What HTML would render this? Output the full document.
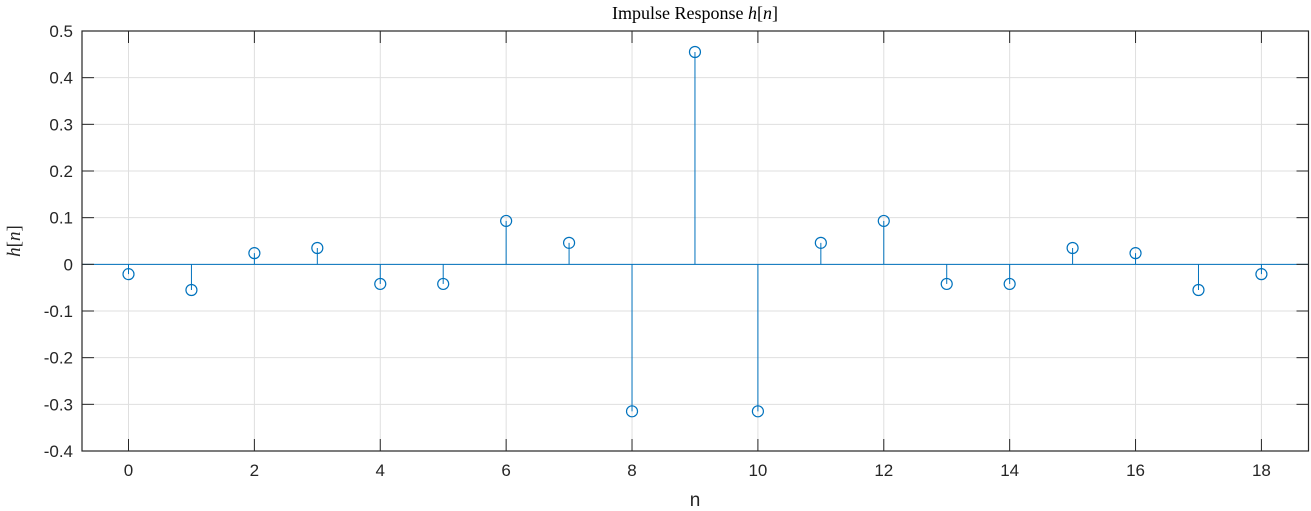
<!DOCTYPE html>
<html><head><meta charset="utf-8"><style>
body{margin:0;background:#fff;}
svg{display:block;font-family:"Liberation Sans",Arial,sans-serif;}
</style></head><body>
<svg id="chart" width="1311" height="511">
<g id="grid"></g>
<g id="marks"></g>
<g id="axes"></g>
<text x="695" y="19" text-anchor="middle" font-family="Liberation Serif, serif" font-size="18" fill="#000">Impulse Response <tspan font-style="italic">h</tspan>[<tspan font-style="italic">n</tspan>]</text>
<text x="695" y="506" text-anchor="middle" font-size="19" fill="#262626">n</text>
<text transform="translate(20,241) rotate(-90)" text-anchor="middle" font-family="Liberation Serif, serif" font-size="19" fill="#262626"><tspan font-style="italic">h</tspan>[<tspan font-style="italic">n</tspan>]</text>
</svg>
<script>
const nValues=[0,1,2,3,4,5,6,7,8,9,10,11,12,13,14,15,16,17,18];
const hValues=[-0.021,-0.055,0.024,0.035,-0.042,-0.042,0.093,0.046,-0.315,0.455,-0.315,0.046,0.093,-0.042,-0.042,0.035,0.024,-0.055,-0.021];
const xTicks=[0,2,4,6,8,10,12,14,16,18];
const yTicks=[-0.4,-0.3,-0.2,-0.1,0,0.1,0.2,0.3,0.4,0.5];
const yTickLabels=["-0.4","-0.3","-0.2","-0.1","0","0.1","0.2","0.3","0.4","0.5"];
const L=82,R=1308.5,T=31,B=451;
const X0=128.5,XS=62.94;
function sx(v){return X0+v*XS;}
function sy(v){return T+(0.5-v)/0.9*(B-T);}
const NS="http://www.w3.org/2000/svg";
function mk(p,tag,a){const e=document.createElementNS(NS,tag);for(const k in a)e.setAttribute(k,a[k]);p.appendChild(e);return e;}
const grid=document.getElementById('grid'),marks=document.getElementById('marks'),axes=document.getElementById('axes');
xTicks.forEach(t=>{
 const g=mk(grid,'line',{x1:sx(t),x2:sx(t),y1:T,y2:B,stroke:'#dfdfdf','stroke-width':1});
 
 
 mk(axes,'line',{x1:sx(t),x2:sx(t),y1:B,y2:B-12,stroke:'#262626','stroke-width':1});
 mk(axes,'line',{x1:sx(t),x2:sx(t),y1:T,y2:T+12,stroke:'#262626','stroke-width':1});
 const tx=mk(axes,'text',{x:sx(t),y:B+25,'text-anchor':'middle','font-size':17,fill:'#262626'});
 tx.textContent=t;
 
 
});
yTicks.forEach((t,i)=>{
 const g=mk(grid,'line',{x1:L,x2:R,y1:sy(t),y2:sy(t),stroke:'#dfdfdf','stroke-width':1});
 
 
 mk(axes,'line',{x1:L,x2:L+12,y1:sy(t),y2:sy(t),stroke:'#262626','stroke-width':1});
 mk(axes,'line',{x1:R,x2:R-12,y1:sy(t),y2:sy(t),stroke:'#262626','stroke-width':1});
 const tx=mk(axes,'text',{x:L-9,y:sy(t)+6,'text-anchor':'end','font-size':17,fill:'#262626'});
 tx.textContent=yTickLabels[i];
 
 
});
const bl=mk(marks,'line',{x1:L,x2:R,y1:sy(0),y2:sy(0),stroke:'#0072bd','stroke-width':1});


nValues.forEach((n,i)=>{
 const s=mk(marks,'line',{x1:sx(n),x2:sx(n),y1:sy(0),y2:sy(hValues[i]),stroke:'#0072bd','stroke-width':1});
 
 
 const c=mk(marks,'circle',{cx:sx(n),cy:sy(hValues[i]),r:5.5,fill:'none',stroke:'#0072bd','stroke-width':1.2});
 
 
});
mk(axes,'rect',{x:L,y:T,width:R-L,height:B-T,fill:'none',stroke:'#262626','stroke-width':1.2});
</script>
</body></html>
